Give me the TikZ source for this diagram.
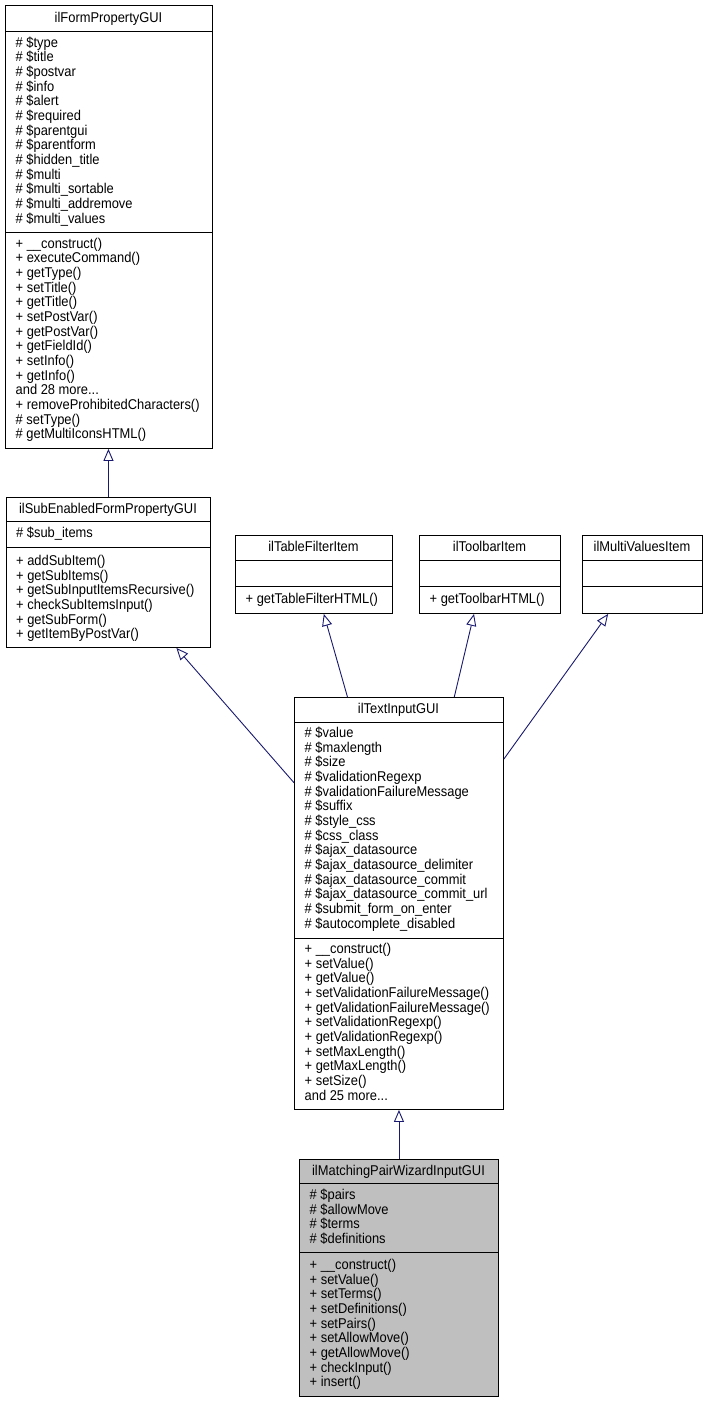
\documentclass[tikz,border=0pt]{standalone}
\usepackage{fontspec}
\usepackage{graphicx}
\setmainfont{Liberation Sans}
\usetikzlibrary{arrows.meta}
\definecolor{edgeblue}{HTML}{191970}
\definecolor{boxgray}{HTML}{BFBFBF}
\newcommand\dfont{\fontsize{12.9}{14.67}\selectfont}
\newcommand\tdots{...}
\newcommand\vs[1]{\scalebox{1}[1.1]{#1}}
\newcommand\memlist[4]{%
  \foreach \t [count=\i from 0] in {#4} {\node[mem] (#1\i) at (#2, {#3+14.67*\i}) {\vs{\t}};}}
\begin{document}
\begin{tikzpicture}[x=1pt,y=-1pt,
  cls/.style={draw=black, line width=0.9pt, inner sep=0pt, anchor=north west},
  mem/.style={anchor=base west, inner sep=0pt, font=\dfont},
  ttl/.style={anchor=base, inner sep=0pt, font=\dfont},
  inh/.style={draw=edgeblue, line width=0.9pt, -{Triangle[open, length=12pt, width=10pt]}},
  div/.style={line width=0.9pt}]
\useasboundingbox[fill=white] (0,0) rectangle (707,1403);

% ilFormPropertyGUI
\node[cls, minimum width=207pt, minimum height=443pt] (fp) at (5,5) {};
\node[ttl] (fpT) at (108.5,22.5) {\vs{ilFormPropertyGUI}};
\draw[div] (5,31) -- (212,31);
\draw[div] (5,232) -- (212,232);
\memlist{fpA}{15.5}{47}{\# \$type, \# \$title, \# \$postvar, \# \$info, \# \$alert, \# \$required, \# \$parentgui, \# \$parentform, \# \$hidden\_title, \# \$multi, \# \$multi\_sortable, \# \$multi\_addremove, \# \$multi\_values}
\memlist{fpM}{15.5}{248}{+ \_\_construct(), + executeCommand(), + getType(), + setTitle(), + getTitle(), + setPostVar(), + getPostVar(), + getFieldId(), + setInfo(), + getInfo(), and 28 more\tdots, + removeProhibitedCharacters(), \# setType(), \# getMultiIconsHTML()}

% ilSubEnabledFormPropertyGUI
\node[cls, minimum width=204pt, minimum height=150pt] (sub) at (6,497) {};
\node[ttl] (subT) at (108,513.5) {\vs{ilSubEnabledFormPropertyGUI}};
\draw[div] (6,521) -- (210,521);
\draw[div] (6,547) -- (210,547);
\memlist{subA}{16}{537.5}{\# \$sub\_items}
\memlist{subM}{16}{565.5}{+ addSubItem(), + getSubItems(), + getSubInputItemsRecursive(), + checkSubItemsInput(), + getSubForm(), + getItemByPostVar()}

% ilTableFilterItem
\node[cls, minimum width=157pt, minimum height=78pt] (tf) at (235,535) {};
\node[ttl] (tfT) at (313.5,551.5) {\vs{ilTableFilterItem}};
\draw[div] (235,560) -- (392,560);
\draw[div] (235,586) -- (392,586);
\memlist{tfM}{245.5}{603.5}{+ getTableFilterHTML()}

% ilToolbarItem
\node[cls, minimum width=141pt, minimum height=78pt] (tb) at (419,535) {};
\node[ttl] (tbT) at (489.5,551.5) {\vs{ilToolbarItem}};
\draw[div] (419,560) -- (560,560);
\draw[div] (419,586) -- (560,586);
\memlist{tbM}{429.5}{603.5}{+ getToolbarHTML()}

% ilMultiValuesItem
\node[cls, minimum width=120pt, minimum height=78pt] (mv) at (582,535) {};
\node[ttl] (mvT) at (642,551.5) {\vs{ilMultiValuesItem}};
\draw[div] (582,560) -- (702,560);
\draw[div] (582,586) -- (702,586);

% ilTextInputGUI
\node[cls, minimum width=209pt, minimum height=412pt] (ti) at (294,697) {};
\node[ttl] (tiT) at (398.5,713.5) {\vs{ilTextInputGUI}};
\draw[div] (294,722) -- (503,722);
\draw[div] (294,938) -- (503,938);
\memlist{tiA}{304.5}{737.5}{\# \$value, \# \$maxlength, \# \$size, \# \$validationRegexp, \# \$validationFailureMessage, \# \$suffix, \# \$style\_css, \# \$css\_class, \# \$ajax\_datasource, \# \$ajax\_datasource\_delimiter, \# \$ajax\_datasource\_commit, \# \$ajax\_datasource\_commit\_url, \# \$submit\_form\_on\_enter, \# \$autocomplete\_disabled}
\memlist{tiM}{304.5}{953.5}{+ \_\_construct(), + setValue(), + getValue(), + setValidationFailureMessage(), + getValidationFailureMessage(), + setValidationRegexp(), + getValidationRegexp(), + setMaxLength(), + getMaxLength(), + setSize(), and 25 more\tdots}

% ilMatchingPairWizardInputGUI
\node[cls, fill=boxgray, minimum width=199pt, minimum height=237pt] (mp) at (299,1159) {};
\node[ttl] (mpT) at (398.5,1175.5) {\vs{ilMatchingPairWizardInputGUI}};
\draw[div] (299,1183) -- (498,1183);
\draw[div] (299,1252) -- (498,1252);
\memlist{mpA}{309.5}{1199.5}{\# \$pairs, \# \$allowMove, \# \$terms, \# \$definitions}
\memlist{mpM}{309.5}{1269.5}{+ \_\_construct(), + setValue(), + setTerms(), + setDefinitions(), + setPairs(), + setAllowMove(), + getAllowMove(), + checkInput(), + insert()}

% inheritance
\draw[inh] (sub.north) -- (sub.north |- fp.south);
\draw[inh] (ti.131.05) -- (sub.-48.44);
\draw[inh] (ti.104.56) -- (tf.-76.3);
\draw[inh] (ti.75.17) -- (tb.-112.9);
\draw[inh] (ti.54.22) -- (mv.-131.9);
\draw[inh] (mp.north) -- (ti.south);
\end{tikzpicture}
\end{document}
